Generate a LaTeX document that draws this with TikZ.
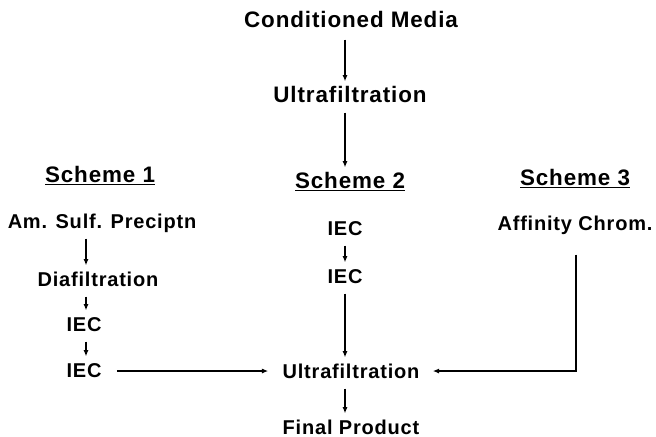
\documentclass[tikz,border=0pt]{standalone}
\usepackage{fontspec}
\setmainfont{Liberation Sans}[LetterSpace=4]
\usetikzlibrary{arrows.meta}

%thick underline for the scheme titles
\newcommand{\schemeul}[1]{\setbox0\hbox{#1}\rlap{\rule[-1.4pt]{\wd0}{0.75pt}}\box0}

\tikzset{
    headline/.style={font=\bfseries\fontsize{11.2}{13}\selectfont, inner sep=0pt, text height=0.72em, text depth=0pt},
    stage/.style={font=\bfseries\fontsize{10}{12}\selectfont, inner sep=0pt, text height=0.72em, text depth=0pt},
    flow/.style={-{Latex[length=3.2pt,width=2.6pt]}, line width=0.8pt, shorten <=5pt, shorten >=3pt}
}

\begin{document}
\begin{tikzpicture}[x=0.5pt,y=-0.5pt]
    \useasboundingbox (0,0) rectangle (656,436);

    %columns of the arrows
    \coordinate (colA) at (86,0);
    \coordinate (colB) at (345,0);
    \coordinate (colC) at (576,0);

    %draw top nodes
    \node[headline] (cond) at (351,20) {Conditioned Media};
    \node[headline] (ultraA) at (350,95) {Ultrafiltration};

    %draw scheme titles
    \node[headline] (schA) at (100,175) {\schemeul{Scheme 1}};
    \node[headline] (schB) at (350,181) {\schemeul{Scheme 2}};
    \node[headline] (schC) at (575,178) {\schemeul{Scheme 3}};

    %scheme 1
    \node[stage] (am) at (102,221) {Am. Sulf. Preciptn};
    \node[stage] (dia) at (98,279) {Diafiltration};
    \node[stage] (iecA) at (84,324) {IEC};
    \node[stage] (iecB) at (84,370) {IEC};

    %scheme 2
    \node[stage] (iecC) at (345,228) {IEC};
    \node[stage] (iecD) at (345,276) {IEC};

    %scheme 3
    \node[stage] (aff) at (575,223) {Affinity Chrom.};

    %common end
    \node[stage] (ultraB) at (351,371) {Ultrafiltration};
    \node[stage] (final) at (351,427) {Final Product};

    %draw vertical arrows
    \draw[flow, shorten <=6pt] (cond.south -| colB) -- (ultraA.north -| colB);
    \draw[flow] (ultraA.south -| colB) -- (schB.north -| colB);
    \foreach \a/\b in {am/dia,dia/iecA,iecA/iecB}
    \draw[flow] (\a.south -| colA) -- (\b.north -| colA);
    \foreach \a/\b in {iecC/iecD,iecD/ultraB,ultraB/final}
    \draw[flow] (\a.south -| colB) -- (\b.north -| colB);

    %draw arrows into ultrafiltration
    \draw[flow, shorten <=7.5pt, shorten >=7pt] (iecB.east |- ultraB.west) -- (ultraB.west);
    \draw[flow, shorten <=12pt, shorten >=6.5pt] (aff.south -| colC) |- (ultraB.east);

\end{tikzpicture}
\end{document}
